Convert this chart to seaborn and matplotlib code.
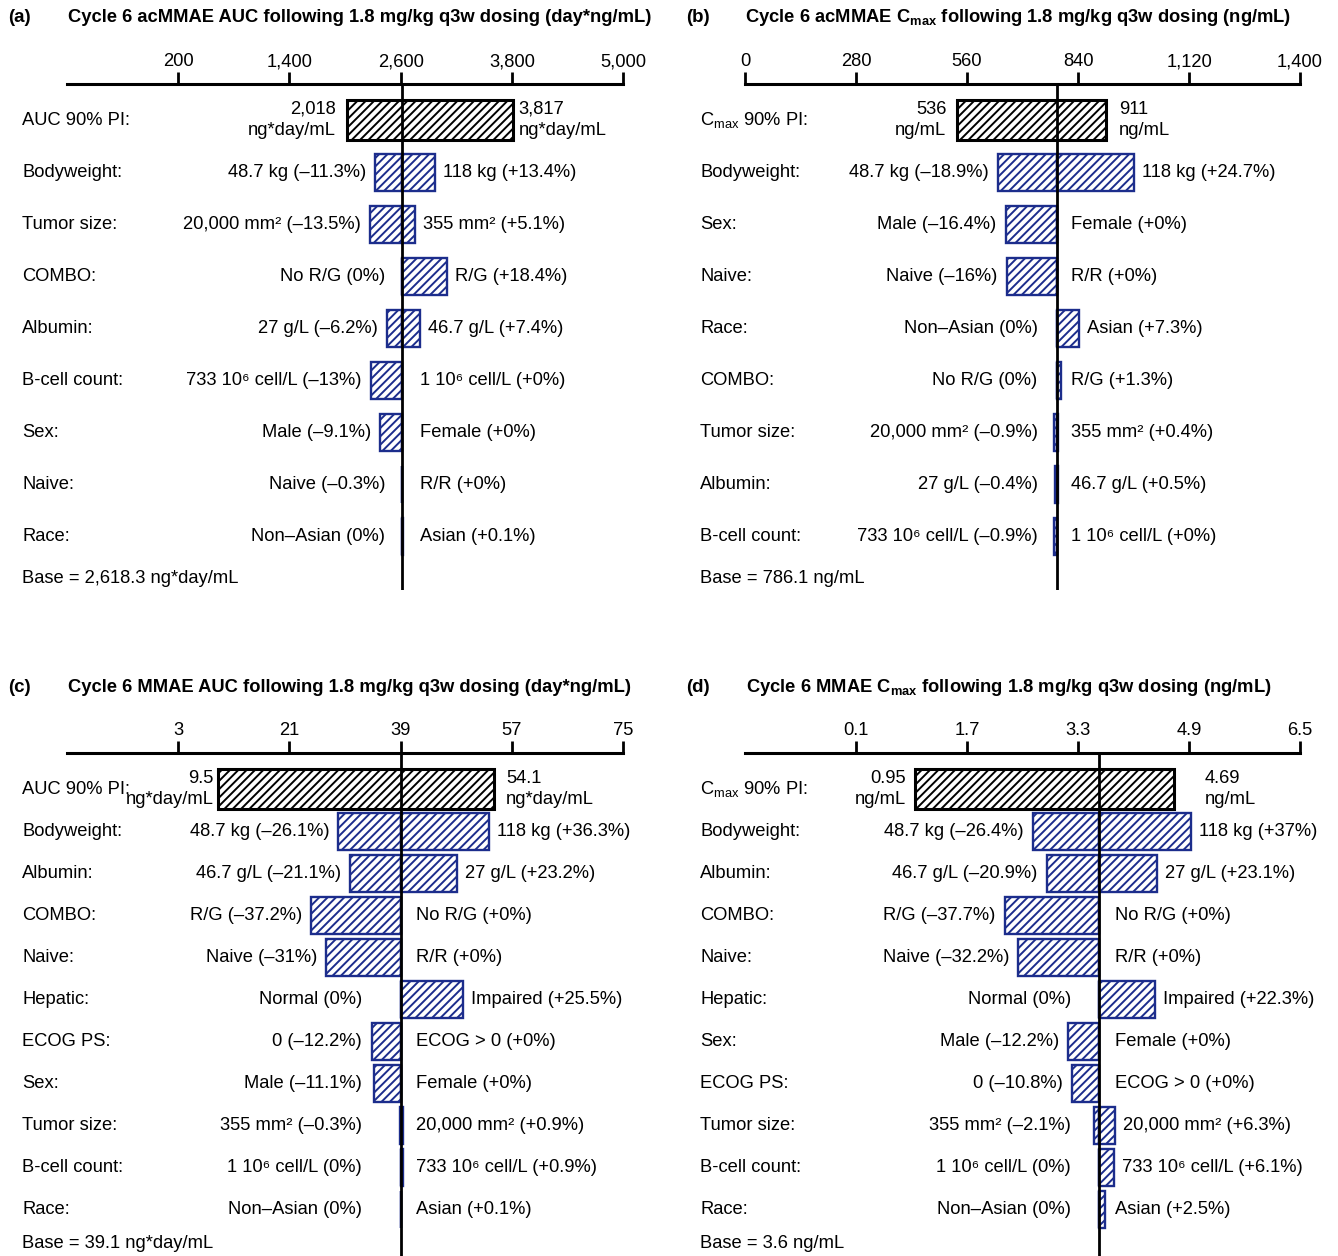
import numpy as np
import pandas as pd
import matplotlib.pyplot as plt
import matplotlib.transforms as mtransforms
import seaborn as sns

sns.set_theme(style='white')
plt.rcParams['font.family'] = ['Liberation Sans', 'DejaVu Sans']
plt.rcParams['text.color'] = 'black'
plt.rcParams['xtick.color'] = 'black'
plt.rcParams['hatch.linewidth'] = 1.4

BLUE = '#1c2d8c'
FS = 13.2

# ---------------- data ----------------
# (a) acMMAE AUC
a_base = 2618.3
a_pi = [2018, 3817]
a_pi_text = ['2,018\nng*day/mL', '3,817\nng*day/mL']
a_rows = ['Bodyweight:', 'Tumor size:', 'COMBO:', 'Albumin:', 'B-cell count:', 'Sex:', 'Naive:', 'Race:']
a_low_lab = ['48.7 kg', '20,000 mm²', 'No R/G', '27 g/L', '733 10⁶ cell/L', 'Male', 'Naive', 'Non–Asian']
a_low_pct = [-11.3, -13.5, 0, -6.2, -13, -9.1, -0.3, 0]
a_high_lab = ['118 kg', '355 mm²', 'R/G', '46.7 g/L', '1 10⁶ cell/L', 'Female', 'R/R', 'Asian']
a_high_pct = [13.4, 5.1, 18.4, 7.4, 0, 0, 0, 0.1]
a_ticks = [200, 1400, 2600, 3800, 5000]

# (b) acMMAE Cmax
b_base = 786.1
b_pi = [536, 911]
b_pi_text = ['536\nng/mL', '911\nng/mL']
b_rows = ['Bodyweight:', 'Sex:', 'Naive:', 'Race:', 'COMBO:', 'Tumor size:', 'Albumin:', 'B-cell count:']
b_low_lab = ['48.7 kg', 'Male', 'Naive', 'Non–Asian', 'No R/G', '20,000 mm²', '27 g/L', '733 10⁶ cell/L']
b_low_pct = [-18.9, -16.4, -16, 0, 0, -0.9, -0.4, -0.9]
b_high_lab = ['118 kg', 'Female', 'R/R', 'Asian', 'R/G', '355 mm²', '46.7 g/L', '1 10⁶ cell/L']
b_high_pct = [24.7, 0, 0, 7.3, 1.3, 0.4, 0.5, 0]
b_ticks = [0, 280, 560, 840, 1120, 1400]

# (c) MMAE AUC
c_base = 39.1
c_pi = [9.5, 54.1]
c_pi_text = ['9.5\nng*day/mL', '54.1\nng*day/mL']
c_rows = ['Bodyweight:', 'Albumin:', 'COMBO:', 'Naive:', 'Hepatic:', 'ECOG PS:', 'Sex:',
          'Tumor size:', 'B-cell count:', 'Race:']
c_low_lab = ['48.7 kg', '46.7 g/L', 'R/G', 'Naive', 'Normal', '0', 'Male', '355 mm²',
             '1 10⁶ cell/L', 'Non–Asian']
c_low_pct = [-26.1, -21.1, -37.2, -31, 0, -12.2, -11.1, -0.3, 0, 0]
c_high_lab = ['118 kg', '27 g/L', 'No R/G', 'R/R', 'Impaired', 'ECOG > 0', 'Female', '20,000 mm²',
              '733 10⁶ cell/L', 'Asian']
c_high_pct = [36.3, 23.2, 0, 0, 25.5, 0, 0, 0.9, 0.9, 0.1]
c_ticks = [3, 21, 39, 57, 75]

# (d) MMAE Cmax
d_base = 3.6
d_pi = [0.95, 4.69]
d_pi_text = ['0.95\nng/mL', '4.69\nng/mL']
d_rows = ['Bodyweight:', 'Albumin:', 'COMBO:', 'Naive:', 'Hepatic:', 'Sex:', 'ECOG PS:',
          'Tumor size:', 'B-cell count:', 'Race:']
d_low_lab = ['48.7 kg', '46.7 g/L', 'R/G', 'Naive', 'Normal', 'Male', '0', '355 mm²',
             '1 10⁶ cell/L', 'Non–Asian']
d_low_pct = [-26.4, -20.9, -37.7, -32.2, 0, -12.2, -10.8, -2.1, 0, 0]
d_high_lab = ['118 kg', '27 g/L', 'No R/G', 'R/R', 'Impaired', 'Female', 'ECOG > 0', '20,000 mm²',
              '733 10⁶ cell/L', 'Asian']
d_high_pct = [37, 23.1, 0, 0, 22.3, 0, 0, 6.3, 6.1, 2.5]
d_ticks = [0.1, 1.7, 3.3, 4.9, 6.5]

CMAX = 'C$_{\\mathregular{max}}$'
panels = [
    dict(letter='(a)', title='Cycle 6 acMMAE AUC following 1.8 mg/kg q3w dosing (day*ng/mL)',
         pi_name='AUC 90% PI:', base=a_base, pi=a_pi, pi_text=a_pi_text, rows=a_rows,
         low_lab=a_low_lab, low_pct=a_low_pct, high_lab=a_high_lab, high_pct=a_high_pct,
         ticks=a_ticks, xlim=(-1000, 5000), base_text='Base = 2,618.3 ng*day/mL',
         box=(67, 623, 84, 590), row0=120, step=52, name_x=22, letter_x=8, title_x=68, title_y=18,
         low_min=17, high_min=18, pi_gap=(11, 5)),
    dict(letter='(b)', title=f'Cycle 6 acMMAE {CMAX} following 1.8 mg/kg q3w dosing (ng/mL)',
         pi_name=f'{CMAX} 90% PI:', base=b_base, pi=b_pi, pi_text=b_pi_text, rows=b_rows,
         low_lab=b_low_lab, low_pct=b_low_pct, high_lab=b_high_lab, high_pct=b_high_pct,
         ticks=b_ticks, xlim=(0, 1400), base_text='Base = 786.1 ng/mL',
         box=(745, 1300, 84, 590), row0=120, step=52, name_x=700, letter_x=686, title_x=745, title_y=18,
         low_min=19, high_min=14, pi_gap=(11, 13)),
    dict(letter='(c)', title='Cycle 6 MMAE AUC following 1.8 mg/kg q3w dosing (day*ng/mL)',
         pi_name='AUC 90% PI:', base=c_base, pi=c_pi, pi_text=c_pi_text, rows=c_rows,
         low_lab=c_low_lab, low_pct=c_low_pct, high_lab=c_high_lab, high_pct=c_high_pct,
         ticks=c_ticks, xlim=(-15, 75), base_text='Base = 39.1 ng*day/mL',
         box=(67, 623, 753, 1256), row0=789, step=42, name_x=22, letter_x=8, title_x=68, title_y=687,
         low_min=39, high_min=15, pi_gap=(5, 12)),
    dict(letter='(d)', title=f'Cycle 6 MMAE {CMAX} following 1.8 mg/kg q3w dosing (ng/mL)',
         pi_name=f'{CMAX} 90% PI:', base=d_base, pi=d_pi, pi_text=d_pi_text, rows=d_rows,
         low_lab=d_low_lab, low_pct=d_low_pct, high_lab=d_high_lab, high_pct=d_high_pct,
         ticks=d_ticks, xlim=(-1.5, 6.5), base_text='Base = 3.6 ng/mL',
         box=(745, 1300, 753, 1256), row0=789, step=42, name_x=700, letter_x=686, title_x=746, title_y=687,
         low_min=28, high_min=16, pi_gap=(9, 30)),
]

W, H = 1338, 1256
fig = plt.figure(figsize=(W / 100, H / 100), dpi=100)
fig.patch.set_facecolor('white')


def pct_text(p, high):
    if p == 0:
        return '(+0%)' if high else '(0%)'
    return f'(+{p:g}%)' if p > 0 else f'(–{abs(p):g}%)'


for p in panels:
    l, r, t, b = p['box']
    ax = fig.add_axes([l / W, 1 - b / H, (r - l) / W, (b - t) / H])
    base = p['base']
    rows_all = [p['pi_name']] + p['rows']
    n = len(rows_all)

    lows = [base * (1 + v / 100) for v in p['low_pct']]
    highs = [base * (1 + v / 100) for v in p['high_pct']]
    cov = pd.DataFrame({'row': p['rows'], 'low': lows, 'high': highs})

    h_pi = 40 / p['step']
    h_cov = 37 / p['step']

    # 90% PI bar
    sns.barplot(x=[p['pi'][1] - p['pi'][0]], y=[p['pi_name']], order=rows_all,
                left=[p['pi'][0]], width=h_pi, errorbar=None, ax=ax, color='white',
                facecolor='white', edgecolor='black', hatch='////', linewidth=2.2)
    # covariate bars, low side and high side
    sns.barplot(x=base - cov['low'], y=cov['row'], order=rows_all, left=cov['low'].values,
                width=h_cov, errorbar=None, ax=ax, color='white',
                facecolor='white', edgecolor=BLUE, hatch='////', linewidth=1.7)
    sns.barplot(x=cov['high'] - base, y=cov['row'], order=rows_all, left=np.full(len(cov), base),
                width=h_cov, errorbar=None, ax=ax, color='white',
                facecolor='white', edgecolor=BLUE, hatch='////', linewidth=1.7)

    ax.set_xlim(*p['xlim'])
    ax.set_ylim((b - p['row0']) / p['step'], (t - p['row0']) / p['step'])
    ax.set_facecolor('none')
    ax.set_xlabel('')
    ax.set_ylabel('')
    ax.set_yticks([])
    for s in ['left', 'right', 'bottom']:
        ax.spines[s].set_visible(False)
    ax.spines['top'].set_visible(True)
    ax.spines['top'].set_linewidth(2.2)
    ax.spines['top'].set_color('black')
    ax.xaxis.tick_top()
    ax.set_xticks(p['ticks'])
    ax.set_xticklabels([f'{v:,g}' for v in p['ticks']], fontsize=FS)
    ax.tick_params(axis='x', direction='out', length=9, width=2, pad=1, colors='black')
    ax.axvline(base, color='black', lw=2, zorder=6)

    # row names
    trans = mtransforms.blended_transform_factory(fig.transFigure, ax.transData)
    for i, name in enumerate(rows_all):
        ax.text(p['name_x'] / W, i, name, transform=trans, ha='left', va='center',
                fontsize=FS, clip_on=False)
    ax.text(p['name_x'] / W, n - 0.18, p['base_text'], transform=trans, ha='left',
            va='center', fontsize=FS, clip_on=False)

    # PI labels
    ax.annotate(p['pi_text'][0], xy=(p['pi'][0], 0), xytext=(-p['pi_gap'][0] * 0.72, 0),
                textcoords='offset points', ha='right', va='center', multialignment='right',
                fontsize=FS, linespacing=1.35)
    ax.annotate(p['pi_text'][1], xy=(p['pi'][1], 0), xytext=(p['pi_gap'][1] * 0.72, 0),
                textcoords='offset points', ha='left', va='center', multialignment='left',
                fontsize=FS, linespacing=1.35)

    # covariate labels
    px_per_unit = (r - l) / (p['xlim'][1] - p['xlim'][0])
    for i, (lo, hi) in enumerate(zip(lows, highs)):
        lo_px = (base - lo) * px_per_unit
        hi_px = (hi - base) * px_per_unit
        gap_lo = max(9, p['low_min'] - lo_px)
        gap_hi = max(8, p['high_min'] - hi_px)
        ax.annotate(f"{p['low_lab'][i]} {pct_text(p['low_pct'][i], False)}",
                    xy=(min(lo, base), i + 1), xytext=(-gap_lo * 0.72, 0),
                    textcoords='offset points', ha='right', va='center', fontsize=FS)
        ax.annotate(f"{p['high_lab'][i]} {pct_text(p['high_pct'][i], True)}",
                    xy=(max(hi, base), i + 1), xytext=(gap_hi * 0.72, 0),
                    textcoords='offset points', ha='left', va='center', fontsize=FS)

    fig.text(p['letter_x'] / W, 1 - p['title_y'] / H, p['letter'], ha='left', va='center',
             fontsize=13.5, fontweight='bold')
    fig.text(p['title_x'] / W, 1 - p['title_y'] / H, p['title'], ha='left', va='center',
             fontsize=13.2, fontweight='bold')

fig.savefig('out.png', dpi=100, facecolor='white')
